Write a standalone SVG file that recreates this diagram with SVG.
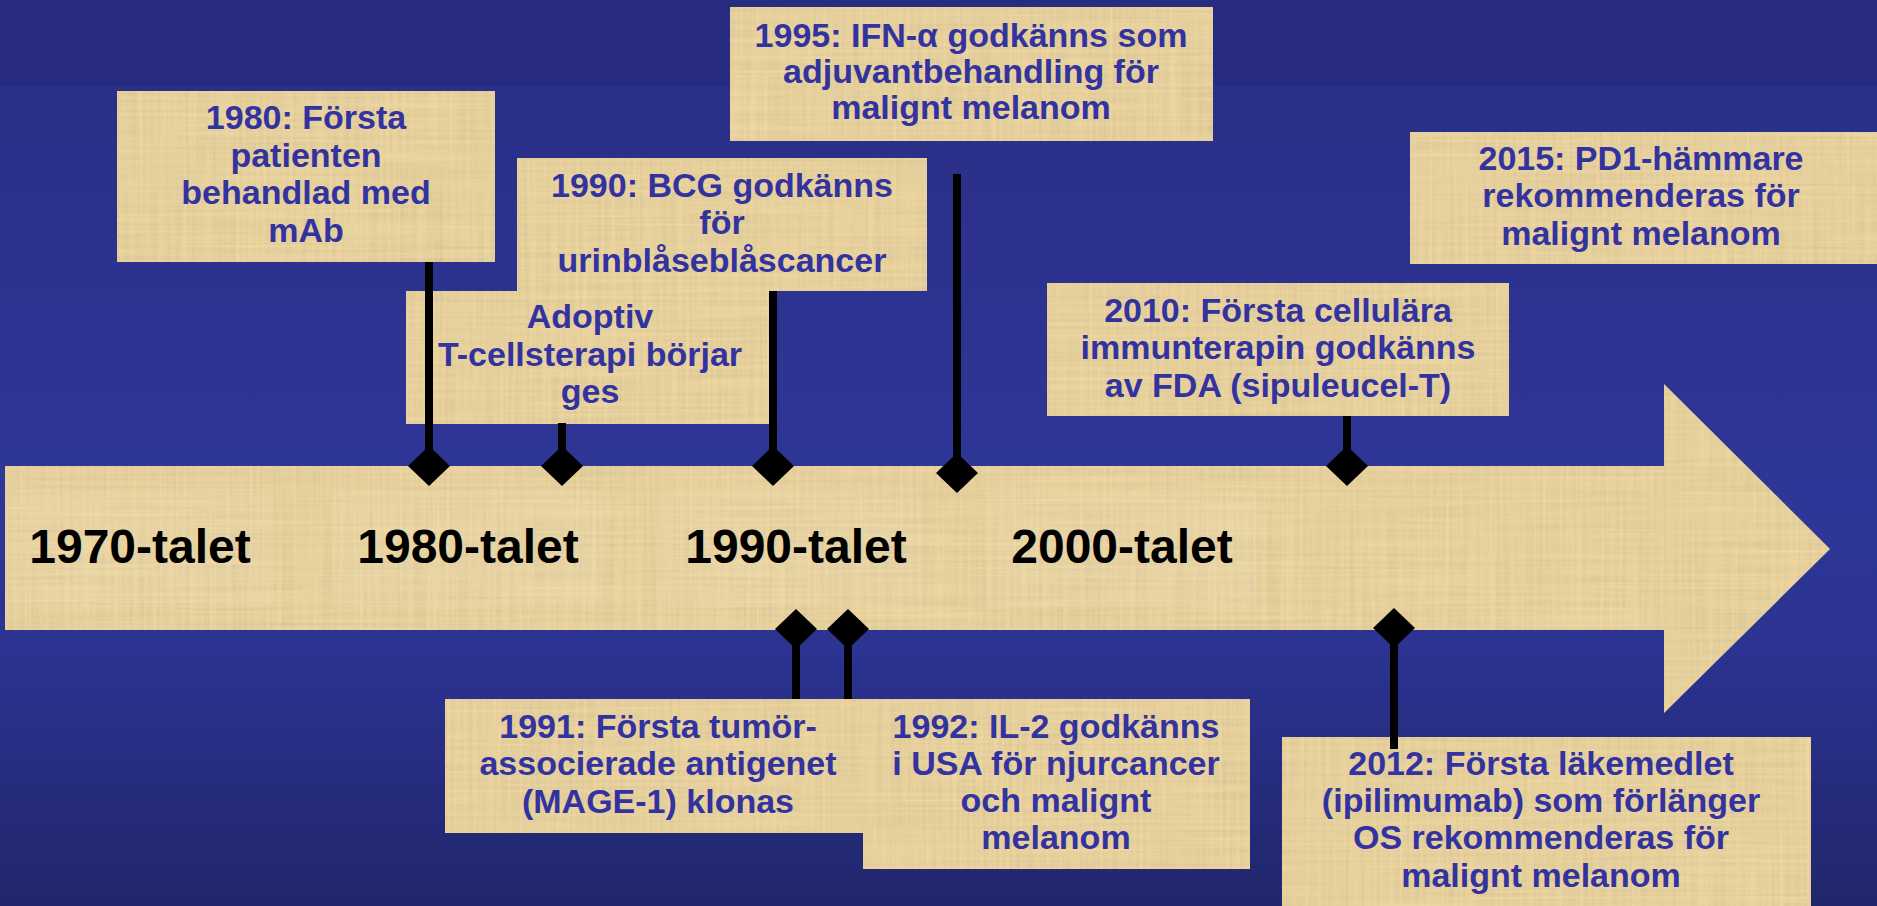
<svg xmlns="http://www.w3.org/2000/svg" width="1877" height="906" viewBox="0 0 1877 906">
  <defs>
    <linearGradient id="bg" x1="0" y1="86" x2="0" y2="906" gradientUnits="userSpaceOnUse">
      <stop offset="0" stop-color="#2a2f87"/>
      <stop offset="0.5" stop-color="#2e3697"/>
      <stop offset="0.68" stop-color="#2c3391"/>
      <stop offset="1" stop-color="#21266c"/>
    </linearGradient>
    <filter id="paper" x="0" y="0" width="100%" height="100%">
      <feTurbulence type="fractalNoise" baseFrequency="0.006 0.3" numOctaves="2" seed="3" result="n1"/>
      <feTurbulence type="fractalNoise" baseFrequency="0.3 0.006" numOctaves="2" seed="8" result="n2"/>
      <feBlend in="n1" in2="n2" mode="multiply" result="n"/>
      <feColorMatrix in="n" type="matrix" values="0 0 0 0 0.62  0 0 0 0 0.5  0 0 0 0 0.28  1.2 0 0 0 -0.22" result="c"/>
      <feComposite in="c" in2="SourceAlpha" operator="in" result="ci"/>
      <feMerge><feMergeNode in="SourceGraphic"/><feMergeNode in="ci"/></feMerge>
    </filter>
    <path id="dia" d="M0,-20 L21,0 L0,20 L-21,0 Z"/>
    <style>
      .box { fill: #eed7a1; filter: url(#paper); }
      .lbl { font-family: "Liberation Sans", Arial, sans-serif; font-weight: bold; font-size: 34px; fill: #3333a0; text-anchor: middle; }
      .dec { font-family: "Liberation Sans", Arial, sans-serif; font-weight: bold; font-size: 48px; fill: #000; text-anchor: middle; }
      .dbox { fill: #ffffff; opacity: 0.07; }
      .con { stroke: #000; stroke-width: 8; fill: none; }
      .dm { fill: #000; }
    </style>
  </defs>

  <rect x="0" y="0" width="1877" height="86" fill="#282c80"/>
  <rect x="0" y="86" width="1877" height="820" fill="url(#bg)"/>

  <g id="timeline">
    <polygon class="box" points="5,466 1664,466 1664,384 1830,549 1664,713 1664,630 5,630"/>
    <rect class="dbox" x="12" y="490" width="261" height="117" rx="8"/>
    <rect class="dbox" x="333" y="490" width="269" height="117" rx="8"/>
    <rect class="dbox" x="662" y="490" width="258" height="117" rx="8"/>
    <rect class="dbox" x="987" y="490" width="270" height="117" rx="8"/>
    <text class="dec" x="140" y="563">1970-talet</text>
    <text class="dec" x="468" y="563">1980-talet</text>
    <text class="dec" x="796" y="563">1990-talet</text>
    <text class="dec" x="1122" y="563">2000-talet</text>
  </g>

  <g id="n1995">
    <rect class="box" x="730" y="7" width="483" height="134"/>
    <text class="lbl" x="971" y="47">1995: IFN-α godkänns som</text>
    <text class="lbl" x="971" y="83">adjuvantbehandling för</text>
    <text class="lbl" x="971" y="119">malignt melanom</text>
  </g>
  <g id="n1980">
    <rect class="box" x="117" y="91" width="378" height="171"/>
    <text class="lbl" x="306" y="129">1980: Första</text>
    <text class="lbl" x="306" y="167">patienten</text>
    <text class="lbl" x="306" y="204">behandlad med</text>
    <text class="lbl" x="306" y="242">mAb</text>
  </g>
  <g id="nAdoptiv">
    <rect class="box" x="406" y="291" width="363" height="133"/>
    <text class="lbl" x="590" y="328">Adoptiv</text>
    <text class="lbl" x="590" y="366">T-cellsterapi börjar</text>
    <text class="lbl" x="590" y="403">ges</text>
  </g>
  <g id="n1990">
    <rect class="box" x="517" y="158" width="410" height="133"/>
    <text class="lbl" x="722" y="197">1990: BCG godkänns</text>
    <text class="lbl" x="722" y="234">för</text>
    <text class="lbl" x="722" y="272">urinblåseblåscancer</text>
  </g>
  <g id="n2015">
    <rect class="box" x="1410" y="132" width="467" height="132"/>
    <text class="lbl" x="1641" y="170">2015: PD1-hämmare</text>
    <text class="lbl" x="1641" y="207">rekommenderas för</text>
    <text class="lbl" x="1641" y="245">malignt melanom</text>
  </g>
  <g id="n2010">
    <rect class="box" x="1047" y="283" width="462" height="133"/>
    <text class="lbl" x="1278" y="322">2010: Första cellulära</text>
    <text class="lbl" x="1278" y="359">immunterapin godkänns</text>
    <text class="lbl" x="1278" y="397">av FDA (sipuleucel-T)</text>
  </g>
  <g id="n1991">
    <rect class="box" x="445" y="699" width="418" height="134"/>
    <text class="lbl" x="658" y="738">1991: Första tumör-</text>
    <text class="lbl" x="658" y="775">associerade antigenet</text>
    <text class="lbl" x="658" y="813">(MAGE-1) klonas</text>
  </g>
  <g id="n1992">
    <rect class="box" x="863" y="699" width="387" height="170"/>
    <text class="lbl" x="1056" y="738">1992: IL-2 godkänns</text>
    <text class="lbl" x="1056" y="775">i USA för njurcancer</text>
    <text class="lbl" x="1056" y="812">och malignt</text>
    <text class="lbl" x="1056" y="849">melanom</text>
  </g>
  <g id="n2012">
    <rect class="box" x="1282" y="737" width="529" height="169"/>
    <text class="lbl" x="1541" y="775">2012: Första läkemedlet</text>
    <text class="lbl" x="1541" y="812">(ipilimumab) som förlänger</text>
    <text class="lbl" x="1541" y="849">OS rekommenderas för</text>
    <text class="lbl" x="1541" y="887">malignt melanom</text>
  </g>

  <g id="connectors">
    <line class="con" x1="429" y1="262" x2="429" y2="466"/>
    <line class="con" x1="562" y1="423" x2="562" y2="466"/>
    <line class="con" x1="773" y1="291" x2="773" y2="466"/>
    <line class="con" x1="957" y1="174" x2="957" y2="473"/>
    <line class="con" x1="1347" y1="416" x2="1347" y2="466"/>
    <line class="con" x1="796" y1="629" x2="796" y2="699"/>
    <line class="con" x1="848" y1="629" x2="848" y2="699"/>
    <line class="con" x1="1394" y1="628" x2="1394" y2="749"/>
    <use class="dm" href="#dia" x="429" y="466"/>
    <use class="dm" href="#dia" x="562" y="466"/>
    <use class="dm" href="#dia" x="773" y="466"/>
    <use class="dm" href="#dia" x="957" y="473"/>
    <use class="dm" href="#dia" x="1347" y="466"/>
    <use class="dm" href="#dia" x="796" y="629"/>
    <use class="dm" href="#dia" x="848" y="629"/>
    <use class="dm" href="#dia" x="1394" y="628"/>
  </g>
</svg>
